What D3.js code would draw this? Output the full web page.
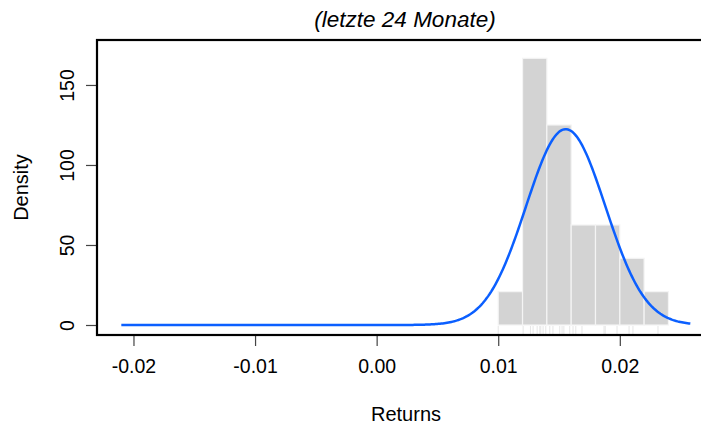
<!DOCTYPE html>
<html>
<head>
<meta charset="utf-8">
<script src="https://cdn.jsdelivr.net/npm/d3@7"></script>
<style>
  body { margin: 0; background: #fff; }
  svg text { font-family: "Liberation Sans", Arial, Helvetica, sans-serif; fill: #000; }
</style>
</head>
<body>
<div id="chart"></div>
<script>
var svgWidth = 701;
var svgHeight = 427;

// plot region (right edge runs past the picture, as in the original)
var plot = { left: 97, right: 711, top: 40, bottom: 335 };

// monthly returns, last 24 months (read from the rug)
var returns = [
  0.01000, 0.01205, 0.01265, 0.01287, 0.01320, 0.01342, 0.01350, 0.01369,
  0.01391, 0.01424, 0.01450, 0.01506, 0.01525, 0.01540, 0.01588, 0.01615,
  0.01638, 0.01689, 0.01870, 0.01880, 0.01977, 0.02076, 0.02108, 0.02314
];
var breaks = [0.010, 0.012, 0.014, 0.016, 0.018, 0.020, 0.022, 0.024];

// fitted normal curve
var fitMean = 0.01555;
var fitSd = 0.00326;
var curveFrom = -0.0210;
var curveTo = 0.0258;

var xTicks = [-0.02, -0.01, 0.00, 0.01, 0.02];
var xTickLabels = ["-0.02", "-0.01", "0.00", "0.01", "0.02"];
var yTicks = [0, 50, 100, 150];

var svg = d3.select("#chart")
  .append("svg")
  .attr("width", svgWidth)
  .attr("height", svgHeight);

var xScale = d3.scaleLinear()
  .domain([-0.023, 0.0275])
  .range([plot.left, plot.right]);

var yScale = d3.scaleLinear()
  .domain([-6.25, 178.1])
  .range([plot.bottom, plot.top]);

// histogram as densities
var bins = d3.bin()
  .domain([breaks[0], breaks[breaks.length - 1]])
  .thresholds(breaks.slice(1, -1))(returns);

bins.forEach(function(b) {
  b.density = b.length / (returns.length * (b.x1 - b.x0));
});

svg.append("g")
  .selectAll("rect")
  .data(bins)
  .enter()
  .append("rect")
  .attr("x", d => xScale(d.x0))
  .attr("y", d => yScale(d.density))
  .attr("width", d => xScale(d.x1) - xScale(d.x0))
  .attr("height", d => yScale(0) - yScale(d.density))
  .attr("fill", "#d3d3d3")
  .attr("stroke", "#f4f4f4")
  .attr("stroke-width", 1.2);

// rug
svg.append("g")
  .selectAll("line")
  .data(returns)
  .enter()
  .append("line")
  .attr("x1", d => xScale(d))
  .attr("x2", d => xScale(d))
  .attr("y1", plot.bottom - 1)
  .attr("y2", plot.bottom - 9)
  .attr("stroke", "#e6e6e6")
  .attr("stroke-width", 1);

// normal density curve
var curvePts = d3.range(0, 401).map(function(i) {
  var v = curveFrom + (curveTo - curveFrom) * i / 400;
  var z = (v - fitMean) / fitSd;
  return [v, Math.exp(-0.5 * z * z) / (fitSd * Math.sqrt(2 * Math.PI))];
});

svg.append("path")
  .datum(curvePts)
  .attr("fill", "none")
  .attr("stroke", "#0b5fff")
  .attr("stroke-width", 2.5)
  .attr("d", d3.line().x(d => xScale(d[0])).y(d => yScale(d[1])));

// axes
var bottomAxis = d3.axisBottom(xScale)
  .tickValues(xTicks)
  .tickFormat((d, i) => xTickLabels[i])
  .tickSize(11)
  .tickPadding(13);

var xAxis = svg.append("g")
  .attr("transform", `translate(0, ${plot.bottom})`)
  .call(bottomAxis);

var leftAxis = d3.axisLeft(yScale)
  .tickValues(yTicks)
  .tickSize(11);

var yAxis = svg.append("g")
  .attr("transform", `translate(${plot.left}, 0)`)
  .call(leftAxis);

[xAxis, yAxis].forEach(function(ax) {
  ax.select(".domain").remove();
  ax.selectAll(".tick line").attr("stroke", "#444").attr("stroke-width", 1.2);
  ax.selectAll("text").style("font-size", "19.5px").attr("fill", "#000");
});

yAxis.selectAll(".tick text")
  .attr("x", null)
  .attr("dy", null)
  .attr("text-anchor", "middle")
  .attr("transform", "translate(-23, 0) rotate(-90)");

// box
svg.append("rect")
  .attr("x", plot.left)
  .attr("y", plot.top)
  .attr("width", plot.right - plot.left)
  .attr("height", plot.bottom - plot.top)
  .attr("fill", "none")
  .attr("stroke", "#000")
  .attr("stroke-width", 2.2);

// labels
svg.append("text")
  .attr("x", 405)
  .attr("y", 27)
  .attr("text-anchor", "middle")
  .style("font-size", "22.5px")
  .style("font-style", "italic")
  .text("(letzte 24 Monate)");

svg.append("text")
  .attr("x", 406)
  .attr("y", 421)
  .attr("text-anchor", "middle")
  .style("font-size", "20px")
  .text("Returns");

svg.append("text")
  .attr("transform", `translate(28, ${(plot.top + plot.bottom) / 2}) rotate(-90)`)
  .attr("text-anchor", "middle")
  .style("font-size", "20px")
  .text("Density");
</script>
</body>
</html>
